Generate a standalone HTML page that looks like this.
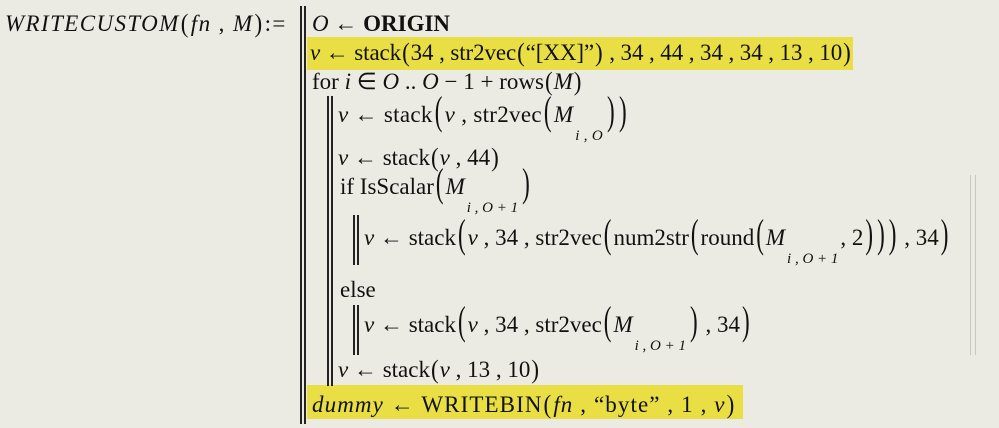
<!DOCTYPE html>
<html><head><meta charset="utf-8"><style>
html,body{margin:0;padding:0}
body{width:999px;height:428px;background:#ebeae3;position:relative;overflow:hidden;font-family:"Liberation Serif",serif;font-size:23px;color:#111}
.l{position:absolute;height:30px;line-height:30px;white-space:nowrap}
i{font-style:italic}
.sub{position:relative;top:18px;font-size:15px;font-style:italic;margin:0 2px}
.p{display:inline-block;transform:scaleY(1.75);transform-origin:50% 65%;margin:0 2px}
.s{display:inline-block;transform:scaleY(1.15);margin:0 1px}
.bar{position:absolute;width:2px;background:#222}
.hl{position:absolute;background:#e9df45}
.f{position:absolute;width:1px;background:#c8c8c0}
</style></head><body>
<div class="hl" style="left:307px;top:37px;width:546px;height:33px"></div>
<div class="hl" style="left:307px;top:385px;width:436px;height:34px"></div>
<div class="bar" style="left:300px;top:6px;height:418px"></div>
<div class="bar" style="left:304px;top:6px;height:418px"></div>
<div class="bar" style="left:327px;top:96px;height:290px"></div>
<div class="bar" style="left:331px;top:96px;height:290px"></div>
<div class="bar" style="left:353px;top:215px;height:50px"></div>
<div class="bar" style="left:357px;top:215px;height:50px"></div>
<div class="bar" style="left:353px;top:305px;height:50px"></div>
<div class="bar" style="left:357px;top:305px;height:50px"></div>
<div class="f" style="left:970px;top:175px;height:180px"></div>
<div class="f" style="left:975px;top:175px;height:180px"></div>

<div class="l" style="left:5px;top:9px;letter-spacing:1.4px"><i>WRITECUSTOM</i><span class="s">(</span><i>fn</i> , <i>M</i><span class="s">)</span>:=</div>
<div class="l" style="left:312px;top:9px"><i>O</i> ← <b>ORIGIN</b></div>
<div class="l" style="left:310px;top:38px;letter-spacing:-0.1px"><i>v</i> ← stack<span class="s">(</span>34 , str2vec<span class="s">(</span>“[XX]”<span class="s">)</span> , 34 , 44 , 34 , 34 , 13 , 10<span class="s">)</span></div>
<div class="l" style="left:312px;top:67px">for <i>i</i> ∈ <i>O</i> .. <i>O</i> − 1 + rows<span class="s">(</span><i>M</i><span class="s">)</span></div>
<div class="l" style="left:338px;top:100px;letter-spacing:0.3px"><i>v</i> ← stack<span class="p">(</span><i>v</i> , str2vec<span class="p">(</span><i>M</i><span class="sub">i , O</span><span class="p">)</span><span class="p">)</span></div>
<div class="l" style="left:338px;top:143px"><i>v</i> ← stack<span class="s">(</span><i>v</i> , 44<span class="s">)</span></div>
<div class="l" style="left:340px;top:172px">if IsScalar<span class="p">(</span><i>M</i><span class="sub">i , O + 1</span><span class="p">)</span></div>
<div class="l" style="left:364px;top:223px"><i>v</i> ← stack<span class="p">(</span><i>v</i> , 34 , str2vec<span class="p">(</span>num2str<span class="p">(</span>round<span class="p">(</span><i>M</i><span class="sub">i , O + 1</span>, 2<span class="p">)</span><span class="p">)</span><span class="p">)</span> , 34<span class="p">)</span></div>
<div class="l" style="left:340px;top:275px">else</div>
<div class="l" style="left:364px;top:310px"><i>v</i> ← stack<span class="p">(</span><i>v</i> , 34 , str2vec<span class="p">(</span><i>M</i><span class="sub">i , O + 1</span><span class="p">)</span> , 34<span class="p">)</span></div>
<div class="l" style="left:338px;top:355px"><i>v</i> ← stack<span class="s">(</span><i>v</i> , 13 , 10<span class="s">)</span></div>
<div class="l" style="left:312px;top:390px;letter-spacing:1.1px"><i>dummy</i> ← WRITEBIN<span class="s">(</span><i>fn</i> , “byte” , 1 , <i>v</i><span class="s">)</span></div>
</body></html>
